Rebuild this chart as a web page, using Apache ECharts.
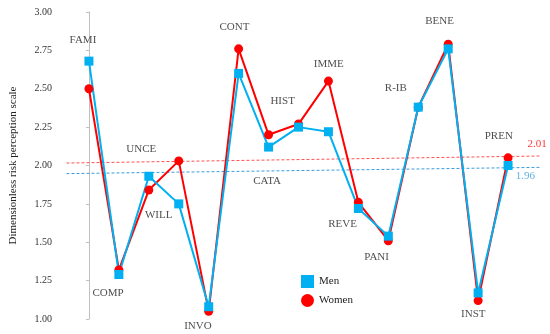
<!DOCTYPE html>
<html>
<head>
<meta charset="utf-8">
<script src="https://cdn.jsdelivr.net/npm/echarts@6/dist/echarts.min.js"></script>
<style>html,body{margin:0;padding:0;background:#fff}#c{width:550px;height:334px}</style>
</head>
<body>
<div id="c"></div>
<script>
var categories = ['FAMI','COMP','UNCE','WILL','INVO','CONT','CATA','HIST','IMME','REVE','PANI','R-IB','BENE','INST','PREN'];
var menValues   = [2.68, 1.29, 1.93, 1.75, 1.08, 2.60, 2.12, 2.25, 2.22, 1.72, 1.54, 2.38, 2.76, 1.17, 2.00];
var womenValues = [2.50, 1.32, 1.84, 2.03, 1.05, 2.76, 2.20, 2.27, 2.55, 1.76, 1.51, 2.38, 2.79, 1.12, 2.05];
// category label anchors [x index, value]
var labelAnchors = [[-0.2,2.82],[0.64,1.17],[1.75,2.11],[2.33,1.68],[3.64,0.955],[4.86,2.90],[5.95,1.90],[6.47,2.42],[8.01,2.66],[8.47,1.62],[9.61,1.40],[10.25,2.505],[11.71,2.94],[12.84,1.03],[13.69,2.19]];
// linear trend lines [x index, value]
var womenTrend = [[-0.75, 2.016], [15.1, 2.062]];
var menTrend   = [[-0.75, 1.947], [15.1, 1.988]];
var womenMean = '2.01';
var menMean = '1.96';
// mean label anchors [x index, value]
var womenMeanAnchor = [14.97, 2.14];
var menMeanAnchor = [14.58, 1.93];
var yTicks = [1.00, 1.25, 1.50, 1.75, 2.00, 2.25, 2.50, 2.75, 3.00];

var FONT = 'Liberation Serif';
var BLUE = '#00B0F0', RED = '#FF0000', TBLUE = '#3A9BDC';

function pts(vals){ return vals.map(function(v,i){ return [i, v]; }); }

var chart = echarts.init(document.getElementById('c'));
chart.setOption({
  animation: false,
  grid: {left: 57.5, right: 9, top: 12, bottom: 15, containLabel: false},
  xAxis: {type: 'value', min: -1, max: 15.1, show: false},
  yAxis: {
    type: 'value', min: yTicks[0], max: yTicks[yTicks.length-1], interval: 0.25,
    name: 'Dimensionless risk perception scale', nameLocation: 'middle', nameGap: 40,
    nameTextStyle: {fontFamily: FONT, fontSize: 11, color: '#222'},
    axisLine: {show: true, lineStyle: {color: '#bfbfbf', width: 1}},
    axisTick: {show: true, length: 3, lineStyle: {color: '#bfbfbf'}},
    splitLine: {show: false},
    axisLabel: {fontFamily: FONT, fontSize: 10, color: '#333', margin: 7,
      formatter: function(v){ return v.toFixed(2); }}
  },
  legend: {
    orient: 'vertical', left: 296, top: 270, itemWidth: 13, itemHeight: 13, itemGap: 6, itemTextGap: 8,
    textStyle: {fontFamily: FONT, fontSize: 11, color: '#222'},
    data: [{name: 'Men', icon: 'rect'}, {name: 'Women', icon: 'circle'}]
  },
  series: [
    {type: 'line', name: 'womenTrend', data: womenTrend, symbol: 'none', silent: true,
     lineStyle: {color: '#FF5050', width: 1, type: [3, 2]}},
    {type: 'line', name: 'menTrend', data: menTrend, symbol: 'none', silent: true,
     lineStyle: {color: TBLUE, width: 1, type: [3, 2]}},
    {type: 'line', name: 'Women', data: pts(womenValues), symbol: 'circle', symbolSize: 9,
     itemStyle: {color: RED}, lineStyle: {color: RED, width: 2}},
    {type: 'line', name: 'Men', data: pts(menValues), symbol: 'rect', symbolSize: 9,
     itemStyle: {color: BLUE}, lineStyle: {color: BLUE, width: 2}},
    {type: 'scatter', name: 'labels', silent: true, clip: false, symbolSize: 0,
     data: labelAnchors.map(function(p, i){ return {value: p, name: categories[i]}; }).concat([
       {value: womenMeanAnchor, name: womenMean, label: {color: RED}},
       {value: menMeanAnchor, name: menMean, label: {color: TBLUE}}
     ]),
     label: {show: true, position: 'inside', formatter: '{b}', fontFamily: FONT, fontSize: 11, color: '#222'}}
  ]
});
</script>
</body>
</html>
